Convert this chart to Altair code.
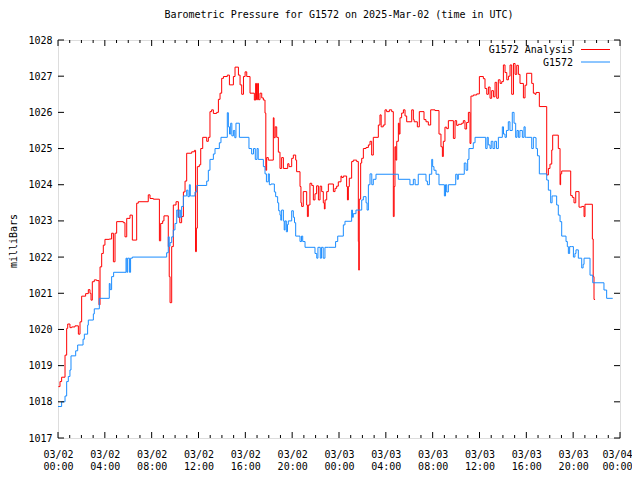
import altair as alt
import pandas as pd

FONT = "DejaVu Sans Mono"

red_hours = [0.03, 0.17, 0.31, 0.6, 0.74, 0.83, 1.02, 1.17, 1.45, 1.74, 1.88, 2.02, 2.36, 2.59, 2.73, 2.82, 2.93, 3.1, 3.3, 3.5,
             3.59, 3.73, 3.87, 4.01, 4.38, 4.58, 4.73, 4.87, 5.01, 5.58, 5.72, 5.87, 6.15, 6.35, 6.72, 6.86, 7.71, 7.86, 8.14, 8.66,
             8.77, 8.94, 9.05, 9.42, 9.5, 9.57, 9.71, 9.85, 10.08, 10.28, 10.4, 10.56, 10.71, 10.85, 10.99, 11.42, 11.65, 11.75, 11.82, 11.9,
             12.07, 12.19, 12.36, 12.7, 12.84, 12.98, 13.12, 13.27, 13.55, 13.7, 13.84, 13.98, 14.13, 14.46, 14.64, 14.98, 15.12, 15.41, 15.55, 15.69,
             15.84, 15.98, 16.12, 16.4, 16.77, 16.88, 16.95, 17.05, 17.12, 17.25, 17.4, 17.54, 17.68, 17.75, 17.82, 17.96, 18.39, 18.45, 18.55, 18.68,
             18.82, 18.96, 19.1, 19.25, 19.62, 19.73, 19.96, 20.1, 20.3, 20.38, 20.67, 20.75, 20.81, 20.95, 21.24, 21.3, 21.38, 21.52, 21.67, 21.81,
             21.95, 22.09, 22.24, 22.38, 22.52, 22.66, 22.75, 22.81, 22.95, 23.09, 23.52, 23.66, 23.8, 23.94, 24.17, 24.23, 24.37, 24.65, 24.72, 24.8,
             24.88, 25.08, 25.22, 25.51, 25.65, 25.69, 25.73, 25.85, 25.94, 26.08, 26.31, 26.51, 26.65, 26.79, 26.93, 27.36, 27.5, 27.6, 27.78, 27.93,
             28.07, 28.3, 28.5, 28.64, 28.71, 28.78, 28.85, 28.93, 29.07, 29.14, 29.21, 29.35, 29.5, 29.64, 29.78, 30.21, 30.35, 30.42, 30.69, 30.86,
             31.26, 31.43, 31.63, 31.83, 32.2, 32.54, 32.71, 32.83, 32.91, 33.05, 33.2, 33.34, 33.77, 33.91, 34.05, 34.19, 34.48, 34.62, 34.76, 34.9,
             35.05, 35.19, 35.27, 35.47, 35.76, 35.99, 36.33, 36.47, 36.62, 36.76, 36.9, 37.04, 37.19, 37.33, 37.47, 37.61, 37.76, 37.9, 38.04, 38.18,
             38.33, 38.47, 38.61, 38.75, 38.9, 39.04, 39.18, 39.32, 39.46, 39.75, 39.89, 40.03, 40.46, 40.6, 40.74, 40.83, 41.11, 41.74, 41.88, 42.02,
             42.17, 42.25, 42.73, 42.88, 42.93, 43.02, 43.79, 43.93, 44.07, 44.22, 44.5, 44.73, 44.93, 45.01, 45.64, 45.71, 45.78, 45.87]
red_mbar = [1018.42, 1018.56, 1018.68, 1019.29, 1020.03, 1020.15, 1020.05, 1020.07, 1020.1, 1019.87, 1020.21, 1020.92, 1020.99, 1021.1, 1021.0, 1020.81, 1021.32, 1021.37, 1021.35, 1020.68,
            1021.73, 1022.1, 1022.33, 1022.49, 1022.5, 1022.66, 1021.87, 1022.66, 1022.98, 1022.95, 1022.56, 1023.07, 1023.16, 1022.47, 1023.49, 1023.53, 1023.72, 1023.62, 1023.6, 1022.45,
            1022.93, 1023.0, 1023.14, 1022.29, 1021.46, 1020.74, 1022.29, 1023.44, 1023.53, 1023.1, 1022.95, 1023.12, 1023.8, 1024.1, 1024.87, 1024.91, 1024.95, 1022.15, 1022.8, 1024.5,
            1024.55, 1025.0, 1025.31, 1025.2, 1025.31, 1026.02, 1026.07, 1025.97, 1026.0, 1026.36, 1026.53, 1026.94, 1026.99, 1027.03, 1026.76, 1026.99, 1027.25, 1027.03, 1026.76, 1026.5,
            1026.99, 1027.12, 1026.99, 1026.53, 1026.34, 1026.8, 1026.35, 1026.8, 1026.35, 1026.53, 1026.4, 1026.34, 1025.98, 1024.4, 1024.75, 1024.68, 1025.85, 1025.3, 1025.6, 1025.31,
            1024.9, 1024.45, 1024.75, 1024.45, 1024.58, 1024.5, 1024.73, 1024.82, 1024.68, 1024.36, 1023.95, 1023.5, 1023.4, 1023.81, 1023.44, 1023.12, 1023.44, 1024.04, 1023.98, 1023.58,
            1023.75, 1023.97, 1023.58, 1023.96, 1023.81, 1023.5, 1023.33, 1023.58, 1023.81, 1024.02, 1023.81, 1023.9, 1023.96, 1024.08, 1024.24, 1024.2, 1024.24, 1023.95, 1023.58, 1023.95,
            1024.18, 1024.64, 1024.68, 1024.64, 1022.43, 1021.64, 1023.6, 1024.6, 1024.73, 1025.0, 1025.03, 1025.1, 1025.2, 1024.82, 1025.31, 1025.65, 1025.93, 1025.6, 1025.65, 1026.07,
            1026.02, 1026.07, 1026.02, 1023.12, 1023.95, 1025.05, 1024.68, 1025.2, 1025.7, 1025.4, 1025.85, 1025.98, 1026.07, 1025.9, 1025.74, 1026.07, 1025.8, 1025.74, 1025.6, 1026.02,
            1025.8, 1025.74, 1025.65, 1026.07, 1026.05, 1025.4, 1025.05, 1024.78, 1025.2, 1025.59, 1025.55, 1025.77, 1025.28, 1025.77, 1025.64, 1025.67, 1025.7, 1025.77, 1025.54, 1025.72,
            1026.0, 1025.14, 1026.45, 1026.48, 1026.51, 1026.99, 1026.93, 1026.66, 1026.5, 1026.7, 1026.39, 1026.6, 1026.43, 1026.83, 1026.39, 1026.9, 1026.8, 1026.85, 1027.31, 1027.1,
            1026.9, 1027.0, 1027.31, 1026.5, 1027.35, 1027.05, 1027.3, 1027.05, 1026.8, 1026.4, 1026.75, 1027.08, 1026.8, 1026.53, 1026.5, 1026.55, 1026.16, 1024.27, 1024.45, 1024.57,
            1024.96, 1025.37, 1025.0, 1024.0, 1024.3, 1024.38, 1023.7, 1023.65, 1023.5, 1023.81, 1023.38, 1023.4, 1023.12, 1023.46, 1022.5, 1021.46, 1020.83, 1020.83]

blue_hours = [0.0, 0.31, 0.6, 0.74, 0.88, 1.02, 1.11, 1.51, 1.68, 2.14, 2.25, 2.53, 2.59, 3.02, 3.1, 3.53, 4.38, 4.45, 4.58, 4.75,
              5.81, 5.88, 5.95, 6.1, 6.2, 6.35, 9.28, 9.42, 9.5, 9.57, 9.71, 9.85, 9.99, 10.14, 10.25, 10.35, 10.45, 10.56, 10.71, 10.99,
              11.1, 11.22, 11.3, 11.42, 11.7, 11.85, 12.7, 12.84, 12.98, 13.27, 13.41, 13.78, 13.92, 14.46, 14.55, 14.65, 14.75, 14.85, 14.98, 15.1,
              15.2, 15.49, 16.31, 16.54, 16.7, 16.85, 17.0, 17.1, 17.25, 17.54, 17.68, 17.8, 17.96, 18.05, 18.19, 18.48, 18.59, 18.76, 18.85, 18.96,
              19.03, 19.1, 19.25, 19.32, 19.39, 19.5, 19.6, 19.67, 19.96, 20.1, 20.2, 20.3, 20.67, 20.8, 20.9, 21.1, 21.95, 22.1, 22.2, 22.4,
              22.5, 22.65, 22.8, 23.09, 23.71, 23.89, 24.37, 24.51, 25.08, 25.15, 25.22, 25.45, 25.94, 26.08, 26.31, 26.4, 26.51, 26.65, 26.8, 26.93,
              27.16, 29.07, 29.21, 30.06, 30.35, 30.5, 30.77, 31.43, 31.55, 31.72, 31.92, 32.0, 32.11, 32.29, 32.54, 33.0, 33.1, 33.2, 33.34, 33.97,
              34.1, 34.19, 34.7, 34.85, 34.99, 35.1, 35.47, 35.62, 36.53, 36.65, 36.75, 36.9, 37.0, 37.15, 37.3, 37.45, 37.61, 37.95, 38.05, 38.18,
              38.3, 38.46, 38.6, 38.8, 38.95, 39.09, 39.2, 39.32, 39.45, 39.66, 39.8, 39.9, 40.03, 40.46, 40.6, 40.74, 40.83, 40.95, 41.11, 41.74,
              41.88, 42.08, 42.2, 42.31, 42.59, 42.73, 42.88, 43.02, 43.39, 43.5, 43.59, 43.7, 43.88, 44.02, 44.15, 44.24, 44.44, 44.73, 44.85, 44.93,
              45.44, 45.67, 46.63, 46.86, 47.38]
blue_mbar = [1017.87, 1018.0, 1018.16, 1018.56, 1018.7, 1018.88, 1019.27, 1019.41, 1019.57, 1019.73, 1019.87, 1020.12, 1020.26, 1020.43, 1020.57, 1020.86, 1021.27, 1021.1, 1021.46, 1021.58,
             1021.97, 1021.58, 1021.97, 1021.58, 1021.97, 1022.0, 1022.12, 1022.56, 1022.3, 1022.4, 1022.56, 1022.75, 1022.93, 1023.3, 1023.1, 1023.3, 1023.1, 1023.4, 1023.69, 1023.85,
             1023.67, 1024.0, 1023.69, 1023.69, 1023.8, 1023.98, 1024.1, 1024.4, 1024.7, 1024.85, 1025.0, 1025.16, 1025.31, 1025.99, 1025.6, 1025.4, 1025.7, 1025.35, 1025.5, 1025.3,
             1025.7, 1025.31, 1025.0, 1024.85, 1025.0, 1024.7, 1025.0, 1024.7, 1024.7, 1024.5, 1024.3, 1024.08, 1024.3, 1024.0, 1024.02, 1023.8, 1023.67, 1023.5, 1023.28, 1023.16,
             1023.02, 1023.3, 1023.0, 1022.75, 1023.0, 1022.7, 1022.9, 1023.0, 1023.28, 1023.1, 1022.95, 1022.58, 1022.43, 1022.58, 1022.43, 1022.27, 1022.1, 1021.97, 1022.27, 1021.97,
             1022.27, 1021.97, 1022.27, 1022.27, 1022.43, 1022.58, 1022.89, 1022.99, 1023.3, 1023.1, 1023.2, 1023.3, 1023.58, 1023.67, 1023.5, 1023.3, 1024.0, 1024.3, 1024.0, 1024.15,
             1024.29, 1024.15, 1024.15, 1024.0, 1024.15, 1024.0, 1024.29, 1024.1, 1024.0, 1024.29, 1024.7, 1024.5, 1024.4, 1024.29, 1024.0, 1023.69, 1024.0, 1023.8, 1024.0, 1024.29,
             1024.15, 1024.29, 1024.6, 1024.4, 1024.7, 1025.0, 1025.16, 1025.31, 1025.0, 1025.31, 1025.1, 1025.0, 1025.2, 1025.0, 1025.2, 1025.0, 1025.31, 1025.6, 1025.4, 1025.31,
             1025.5, 1025.74, 1025.5, 1026.0, 1025.7, 1025.31, 1025.5, 1025.31, 1025.5, 1025.31, 1025.6, 1025.31, 1025.31, 1025.0, 1025.31, 1025.3, 1025.0, 1024.8, 1024.3, 1024.13,
             1023.85, 1023.5, 1023.69, 1023.69, 1023.44, 1023.16, 1022.98, 1022.58, 1022.43, 1022.29, 1022.1, 1022.29, 1022.29, 1022.0, 1022.1, 1022.2, 1021.97, 1021.7, 1021.8, 1021.97,
             1021.5, 1021.29, 1021.09, 1020.86, 1020.86]

x_major = list(range(0, 49, 4))
x_minor = [h for h in range(0, 49) if h % 4 != 0]
y_ticks = list(range(1017, 1029))

W, H = 562, 398
MAJ, MIN = 6, 3

red_df = pd.DataFrame({"h": red_hours, "p": red_mbar})
blue_df = pd.DataFrame({"h": blue_hours, "p": blue_mbar})

xs = alt.Scale(domain=[0, 48], nice=False, zero=False)
ys = alt.Scale(domain=[1017, 1028], nice=False, zero=False)

label_expr = ("[datum.value < 24 ? '03/02' : (datum.value < 48 ? '03/03' : '03/04'), "
              "((datum.value % 24) < 10 ? '0' : '') + (datum.value % 24) + ':00']")

x_axis = alt.Axis(values=x_major, labelExpr=label_expr, ticks=False, domain=False, grid=False,
                  labelFont=FONT, labelFontSize=10, labelColor="black", labelPadding=11,
                  labelLineHeight=12, labelFlush=False, labelOverlap=False, title=None,
                  labelOffset={"condition": {"test": "datum.value >= 48", "value": -3}, "value": 0})
y_axis = alt.Axis(values=y_ticks, format="d", ticks=False, domain=False, grid=False,
                  labelFont=FONT, labelFontSize=10, labelColor="black", labelPadding=6,
                  labelOverlap=False, title=None)

X = alt.X("h:Q", scale=xs, axis=x_axis)
Y = alt.Y("p:Q", scale=ys, axis=y_axis)

red_line = alt.Chart(red_df).mark_line(interpolate="step-after", strokeWidth=1, color="#ff0000").encode(x=X, y=Y)
blue_line = alt.Chart(blue_df).mark_line(interpolate="step-after", strokeWidth=1, color="#1a8cff").encode(x=X, y=Y)

xmaj_df = pd.DataFrame({"h": x_major})
xmin_df = pd.DataFrame({"h": x_minor})
yt_df = pd.DataFrame({"p": y_ticks})

def xticks(df, length):
    bottom = alt.Chart(df).mark_rule(color="black", strokeWidth=1).encode(
        x=X, y=alt.value(H), y2=alt.value(H - length))
    top = alt.Chart(df).mark_rule(color="black", strokeWidth=1).encode(
        x=X, y=alt.value(0), y2=alt.value(length))
    return [bottom, top]

yl = alt.Chart(yt_df).mark_rule(color="black", strokeWidth=1).encode(
    y=Y, x=alt.value(0), x2=alt.value(MAJ))
yr = alt.Chart(yt_df).mark_rule(color="black", strokeWidth=1).encode(
    y=Y, x=alt.value(W - MAJ), x2=alt.value(W))

one = pd.DataFrame({"k": [0]})
ytitle = alt.Chart(one).mark_text(font=FONT, fontSize=10, angle=270, color="black", baseline="middle").encode(
    x=alt.value(-44.5), y=alt.value(201), text=alt.value("milliBars"))

leg_t1 = alt.Chart(one).mark_text(font=FONT, fontSize=10, align="right", baseline="middle", color="black").encode(
    x=alt.value(515), y=alt.value(10), text=alt.value("G1572 Analysis"))
leg_t2 = alt.Chart(one).mark_text(font=FONT, fontSize=10, align="right", baseline="middle", color="black").encode(
    x=alt.value(515), y=alt.value(22.5), text=alt.value("G1572"))
leg_l1 = alt.Chart(one).mark_rule(color="#ff0000", strokeWidth=1).encode(
    x=alt.value(523), x2=alt.value(552), y=alt.value(9.5))
leg_l2 = alt.Chart(one).mark_rule(color="#1a8cff", strokeWidth=1).encode(
    x=alt.value(523), x2=alt.value(552), y=alt.value(22))

chart = alt.layer(
    red_line, blue_line, *xticks(xmaj_df, MAJ), *xticks(xmin_df, MIN), yl, yr,
    ytitle, leg_t1, leg_t2, leg_l1, leg_l2,
).properties(
    width=W, height=H,
    title=alt.TitleParams(text="Barometric Pressure for G1572 on 2025-Mar-02 (time in UTC)",
                          font=FONT, fontSize=10, fontWeight="normal", anchor="middle",
                          color="black", offset=15),
    autosize=alt.AutoSizeParams(type="none"),
    padding={"left": 50, "top": 32, "right": 12, "bottom": 34},
).configure_view(stroke="black", strokeWidth=1).configure(background="white")

chart.save("out.html", embed_options={"renderer": "svg", "actions": False})
